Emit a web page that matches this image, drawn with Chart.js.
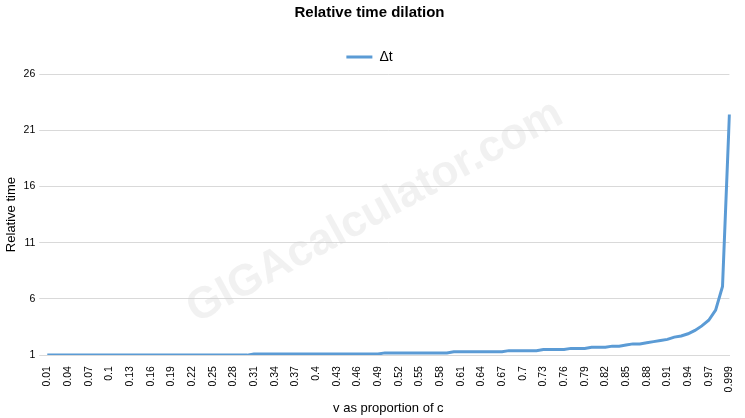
<!DOCTYPE html>
<html><head><script src="https://cdn.jsdelivr.net/npm/chart.js"></script>
<style>body{margin:0;background:#fff}#w{width:745px;height:418px}</style></head>
<body><div id="w"><canvas id="c"></canvas></div>
<script>
const categories=['0.01','0.02','0.03','0.04','0.05','0.06','0.07','0.08','0.09','0.1','0.11','0.12','0.13','0.14','0.15','0.16','0.17','0.18','0.19','0.2','0.21','0.22','0.23','0.24','0.25','0.26','0.27','0.28','0.29','0.3','0.31','0.32','0.33','0.34','0.35','0.36','0.37','0.38','0.39','0.4','0.41','0.42','0.43','0.44','0.45','0.46','0.47','0.48','0.49','0.5','0.51','0.52','0.53','0.54','0.55','0.56','0.57','0.58','0.59','0.6','0.61','0.62','0.63','0.64','0.65','0.66','0.67','0.68','0.69','0.7','0.71','0.72','0.73','0.74','0.75','0.76','0.77','0.78','0.79','0.8','0.81','0.82','0.83','0.84','0.85','0.86','0.87','0.88','0.89','0.9','0.91','0.92','0.93','0.94','0.95','0.96','0.97','0.98','0.99','0.999'];
const dt=[1,1,1,1,1,1,1,1,1,1,1,1,1,1,1,1,1,1,1,1,1,1,1,1,1,1,1,1,1,1,
1.1,1.1,1.1,1.1,1.1,1.1,1.1,1.1,1.1,1.1,1.1,1.1,1.1,1.1,1.1,1.1,1.1,1.1,1.1,
1.2,1.2,1.2,1.2,1.2,1.2,1.2,1.2,1.2,1.2,
1.3,1.3,1.3,1.3,1.3,1.3,1.3,1.3,
1.4,1.4,1.4,1.4,1.4,
1.5,1.5,1.5,1.5,
1.6,1.6,1.6,
1.7,1.7,1.7,
1.8,1.8,1.9,2.0,2.0,2.1,2.2,2.3,2.4,2.6,2.7,2.9,3.2,3.6,4.1,5.0,7.1,22.4];
const yTicks=[1,6,11,16,21,26];
const wm={id:'wm',beforeDatasetsDraw(ch){const c=ch.ctx;c.save();c.translate(375,212);c.rotate(-0.5);c.font='bold 44px "Liberation Sans"';c.fillStyle='rgba(210,210,210,0.3)';c.textAlign='center';c.textBaseline='middle';c.fillText('GIGAcalculator.com',0,0);c.restore();}};
const F='"Liberation Sans"';
new Chart(document.getElementById('c'),{type:'line',plugins:[wm],
data:{labels:categories,datasets:[{label:'Δt',data:dt,borderColor:'#5b9bd5',backgroundColor:'#5b9bd5',borderWidth:3,pointRadius:0,tension:0}]},
options:{responsive:true,maintainAspectRatio:false,animation:false,
layout:{padding:{left:0,right:6,top:0,bottom:0}},
plugins:{title:{display:true,text:'Relative time dilation',color:'#000',font:{family:F,size:15,weight:'bold'},padding:{top:4,bottom:10}},
legend:{labels:{boxWidth:26,boxHeight:0,color:'#000',padding:18,font:{family:F,size:14}}},tooltip:{enabled:false}},
scales:{x:{grid:{display:false},border:{color:'#d9d9d9'},ticks:{color:'#000',autoSkip:false,maxRotation:90,minRotation:90,font:{family:F,size:10.5},callback:(v,i)=>i%3===0?categories[i]:null},
title:{display:true,text:'v as proportion of c',color:'#000',font:{family:F,size:13},padding:{top:5,bottom:2}}},
y:{min:1,max:26,afterBuildTicks:a=>{a.ticks=yTicks.map(v=>({value:v}));},grid:{color:'#d9d9d9'},border:{display:false},ticks:{color:'#000',font:{family:F,size:10.5},padding:4},
title:{display:true,text:'Relative time',color:'#000',font:{family:F,size:13},padding:{bottom:0}}}}}});
</script></body></html>
